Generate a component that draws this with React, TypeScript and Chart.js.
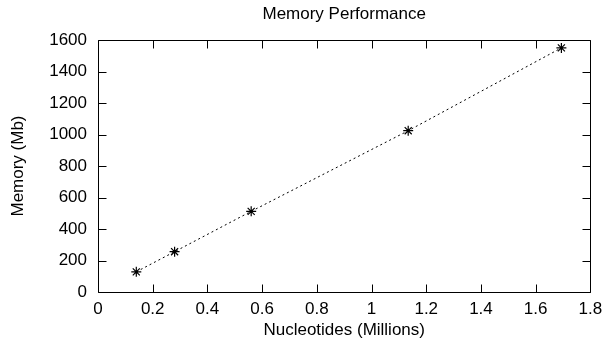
import React, { useEffect, useRef } from "react";
import { Chart, registerables } from "chart.js";

Chart.register(...registerables);

const nucleotides = [0.14, 0.28, 0.56, 1.134, 1.694];
const memory = [128, 256, 512, 1024, 1550];
const xTicks = [0, 0.2, 0.4, 0.6, 0.8, 1, 1.2, 1.4, 1.6, 1.8];
const yTicks = [0, 200, 400, 600, 800, 1000, 1200, 1400, 1600];

const FONT = "'Liberation Sans', Helvetica, Arial, sans-serif";
const FS = 17;

const framePlugin = {
  id: "frame",
  afterDraw(chart: any) {
    const { ctx, chartArea, scales } = chart;
    const { left, right, top, bottom } = chartArea;
    ctx.save();
    ctx.strokeStyle = "#000";
    ctx.lineWidth = 1;
    ctx.beginPath();
    const L = Math.round(left) + 0.5;
    const R = Math.round(right) + 0.5;
    const T = Math.round(top) + 0.5;
    const B = Math.round(bottom) + 0.5;
    ctx.rect(L, T, R - L, B - T);
    const len = 8;
    xTicks.forEach((v) => {
      const px = Math.round(scales.x.getPixelForValue(v)) + 0.5;
      ctx.moveTo(px, B);
      ctx.lineTo(px, B - len);
      ctx.moveTo(px, T);
      ctx.lineTo(px, T + len);
    });
    yTicks.forEach((v) => {
      const py = Math.round(scales.y.getPixelForValue(v)) + 0.5;
      ctx.moveTo(L, py);
      ctx.lineTo(L + len, py);
      ctx.moveTo(R, py);
      ctx.lineTo(R - len, py);
    });
    ctx.stroke();
    ctx.restore();
  },
};

export default function App() {
  const ref = useRef<HTMLCanvasElement>(null);
  useEffect(() => {
    if (!ref.current) return;
    const chart = new Chart(ref.current, {
      type: "line",
      data: {
        datasets: [
          {
            data: nucleotides.map((x, i) => ({ x, y: memory[i] })),
            borderColor: "#000",
            backgroundColor: "#000",
            borderWidth: 1,
            borderDash: [2, 3],
            pointStyle: "star",
            pointRadius: 5,
            pointBorderWidth: 1.2,
            pointBorderColor: "#000",
            fill: false,
            tension: 0,
          },
        ],
      },
      options: {
        responsive: false,
        animation: false,
        layout: { padding: { left: 0, right: 12, top: 0, bottom: 0 } },
        plugins: {
          legend: { display: false },
          tooltip: { enabled: false },
          title: {
            display: true,
            text: "Memory Performance",
            fullSize: false,
            color: "#000",
            font: { family: FONT, size: FS, weight: "normal" },
            padding: { top: 4.3, bottom: 15.3 },
          },
        },
        scales: {
          x: {
            type: "linear",
            min: 0,
            max: 1.8,
            afterFit: (s: any) => {
              s.height = 56;
            },
            afterBuildTicks: (s: any) => {
              s.ticks = xTicks.map((v) => ({ value: v }));
            },
            grid: { display: false, drawTicks: false },
            border: { display: false },
            ticks: {
              color: "#000",
              padding: 6.8,
              maxRotation: 0,
              autoSkip: false,
              font: { family: FONT, size: FS },
              callback: (v: any) => String(Number(Number(v).toFixed(1))),
            },
            title: {
              display: true,
              text: "Nucleotides (Millions)",
              color: "#000",
              font: { family: FONT, size: FS },
              padding: { top: 0, bottom: 7.8 },
            },
          },
          y: {
            type: "linear",
            min: 0,
            max: 1600,
            afterFit: (s: any) => {
              s.width = 98;
            },
            afterBuildTicks: (s: any) => {
              s.ticks = yTicks.map((v) => ({ value: v }));
            },
            grid: { display: false, drawTicks: false },
            border: { display: false },
            ticks: {
              color: "#000",
              padding: 11,
              autoSkip: false,
              font: { family: FONT, size: FS },
              callback: (v: any) => String(v),
            },
            title: {
              display: true,
              text: "Memory (Mb)",
              color: "#000",
              font: { family: FONT, size: FS },
              padding: { top: 7.8, bottom: 0 },
            },
          },
        },
      },
      plugins: [framePlugin],
    });
    return () => chart.destroy();
  }, []);
  return (
    <div style={{ position: "absolute", left: 0, top: 0, width: 609, height: 348, background: "#fff" }}>
      <canvas ref={ref} width={609} height={348} />
    </div>
  );
}
